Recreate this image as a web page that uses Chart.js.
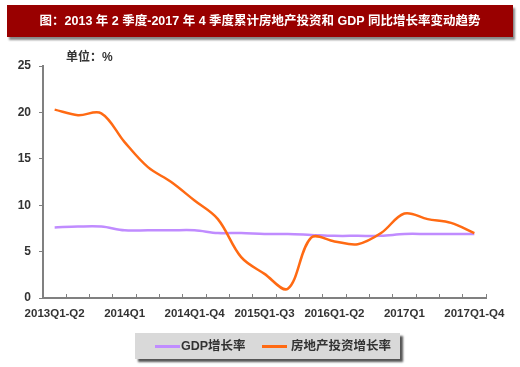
<!DOCTYPE html>
<html><head><meta charset="utf-8">
<script src="https://cdn.jsdelivr.net/npm/chart.js@4/dist/chart.umd.min.js"></script>
<style>
html,body{margin:0;padding:0;background:#fff;}
#wrap{position:relative;width:520px;height:367px;overflow:hidden;font-family:'Liberation Sans','Noto Sans CJK SC',sans-serif;}
#title{position:absolute;left:7px;top:5px;width:506px;height:32px;background:#990000;color:#fff;font-weight:bold;font-size:12.5px;line-height:32px;text-align:center;box-shadow:2px 3px 2px #888;}
#unit{position:absolute;left:66px;top:47px;font-weight:bold;font-size:12px;color:#333;}
#legend{position:absolute;left:135px;top:333px;width:265px;height:26px;background:#d9d9d9;box-shadow:3px 3px 2px #555;font-weight:bold;font-size:12.5px;color:#333;}
.sw{position:absolute;top:12px;width:25px;height:2.5px;}
.lt{position:absolute;top:5px;line-height:16px;}
canvas{position:absolute;left:0;top:0;}
</style></head>
<body><div id="wrap">
<canvas id="c" width="520" height="367"></canvas>
<div id="title">图：2013 年 2 季度-2017 年 4 季度累计房地产投资和 GDP 同比增长率变动趋势</div>
<div id="unit">单位：%</div>
<div id="legend">
  <div class="sw" style="left:20px;background:#c08cff"></div><div class="lt" style="left:46px">GDP增长率</div>
  <div class="sw" style="left:127px;background:#ff6a13"></div><div class="lt" style="left:156px">房地产投资增长率</div>
</div>
</div>
<script>
const categories = ['2013Q1-Q2','2013Q1-Q3','2013Q1-Q4','2014Q1','2014Q1-Q2','2014Q1-Q3','2014Q1-Q4','2015Q1','2015Q1-Q2','2015Q1-Q3','2015Q1-Q4','2016Q1','2016Q1-Q2','2016Q1-Q3','2016Q1-Q4','2017Q1','2017Q1-Q2','2017Q1-Q3','2017Q1-Q4'];
const shownLabels = ['2013Q1-Q2','2014Q1','2014Q1-Q4','2015Q1-Q3','2016Q1-Q2','2017Q1','2017Q1-Q4'];
const gdpGrowth = [7.6,7.7,7.7,7.3,7.3,7.3,7.3,7.0,7.0,6.9,6.9,6.8,6.7,6.7,6.7,6.9,6.9,6.9,6.9];
const realEstateGrowth = [20.3,19.7,19.9,16.8,14.1,12.5,10.5,8.5,4.4,2.6,1.0,6.5,6.1,5.8,7.0,9.1,8.5,8.1,7.0];
const yTicks = [0,5,10,15,20,25];

const FONT = "'Liberation Sans','Noto Sans CJK SC',sans-serif";
new Chart(document.getElementById('c'), {
  type: 'line',
  data: {
    labels: categories,
    datasets: [
      {label:'GDP增长率', data: gdpGrowth, borderColor:'#c08cff', borderWidth:2.5, pointRadius:0, tension:0.35, order:2, fill:false},
      {label:'房地产投资增长率', data: realEstateGrowth, borderColor:'#ff6a13', borderWidth:2.5, pointRadius:0, tension:0.35, order:1, fill:false}
    ]
  },
  options: {
    responsive:false, animation:false,
    layout:{padding:{left:0,right:34,top:66,bottom:39}},
    plugins:{legend:{display:false}, tooltip:{enabled:false}, title:{display:false}},
    scales:{
      x:{
        type:'category', offset:true,
        afterFit:(s)=>{s.height=30;},
        grid:{drawOnChartArea:false, drawTicks:true, tickLength:-4, offset:true, color:'#808080', lineWidth:1},
        border:{color:'#808080', width:2},
        ticks:{autoSkip:false, maxRotation:0, minRotation:0, padding:13, color:'#333', font:{family:FONT, size:11.5, weight:'bold'},
          callback:function(v,i){const l=categories[i]; return shownLabels.includes(l)?l:'';}}
      },
      y:{
        min:0, max:25,
        afterFit:(s)=>{s.width=43;},
        afterBuildTicks:(s)=>{s.ticks=yTicks.map(v=>({value:v}));},
        grid:{drawOnChartArea:false, drawTicks:true, tickLength:4, color:'#808080', lineWidth:1},
        border:{color:'#808080', width:2},
        ticks:{padding:8, color:'#333', font:{family:FONT, size:12, weight:'bold'}}
      }
    }
  }
});
</script>
</body></html>
